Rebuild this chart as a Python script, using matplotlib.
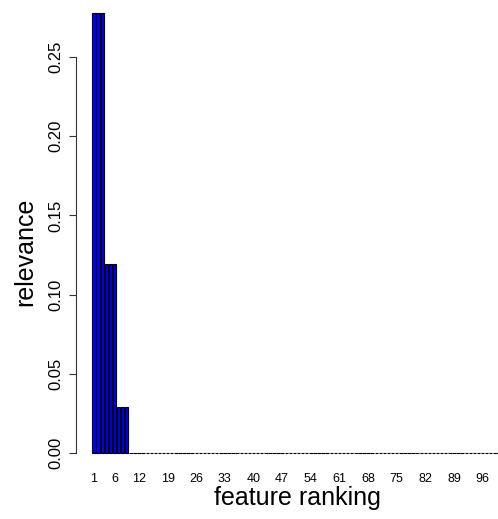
import matplotlib
matplotlib.use('Agg')
import matplotlib.pyplot as plt

plt.rcParams['font.family'] = ['Liberation Sans', 'DejaVu Sans']

# relevance of each ranked feature (100 features)
relevance = [0.278, 0.278, 0.278,
             0.119, 0.119, 0.119,
             0.029, 0.029, 0.029] + [0.0] * 91
shown_labels = [1, 6, 12, 19, 26, 33, 40, 47, 54, 61, 68, 75, 82, 89, 96]
y_ticks = [0.00, 0.05, 0.10, 0.15, 0.20, 0.25]

n = len(relevance)
# R barplot layout: width 1, space 0.2
centers = [0.7 + 1.2 * i for i in range(n)]

fig = plt.figure(figsize=(4.98, 5.19), dpi=100)
ax = fig.add_axes([76 / 498, (519 - 470.6) / 519, 441 / 498, 475.6 / 519])

ax.bar(centers, relevance, width=1.0, color='#0000ff', edgecolor='black', linewidth=0.8)

xmin, xmax = 0.2, 1.2 * n
xpad = (xmax - xmin) * 0.04
ax.set_xlim(xmin - xpad, xmax + xpad)
ymax = max(relevance)
ypad = ymax * 0.04
ax.set_ylim(-ypad, ymax + ypad)

for s in ['top', 'right', 'bottom']:
    ax.spines[s].set_visible(False)
ax.spines['left'].set_bounds(0, 0.25)
ax.spines['left'].set_color('#333333')
ax.spines['left'].set_linewidth(0.8)

ax.set_yticks(y_ticks)
ax.set_yticklabels(['%.2f' % v for v in y_ticks], rotation=90, va='center', fontsize=12)
ax.tick_params(axis='y', length=5, width=0.8, color='#333333', pad=4)

ax.set_xticks([centers[k - 1] for k in shown_labels])
ax.set_xticklabels([str(k) for k in shown_labels], fontsize=9)
ax.tick_params(axis='x', length=0, pad=1.5)

fig.text(297 / 498, 1 - 498 / 519, 'feature ranking', ha='center', va='center', fontsize=18)
fig.text(25 / 498, 1 - 252 / 519, 'relevance', ha='center', va='center', rotation=90, fontsize=18)

fig.savefig('out.png', dpi=100)
